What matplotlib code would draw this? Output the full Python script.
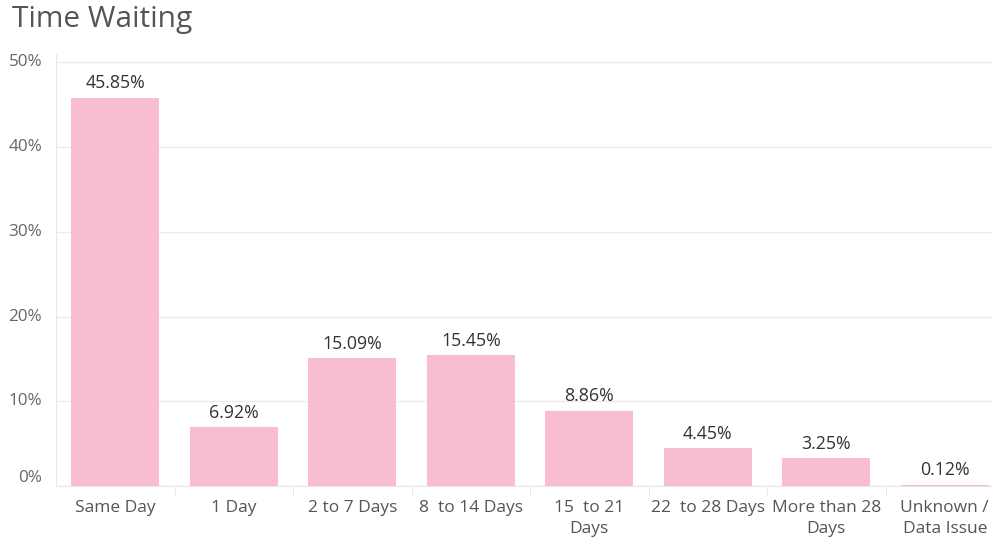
import matplotlib
matplotlib.use("Agg")
import matplotlib.pyplot as plt
import numpy as np

plt.rcParams['font.family'] = ['Open Sans', 'DejaVu Sans']

categories = ["Same Day", "1 Day", "2 to 7 Days", "8  to 14 Days", "15  to 21\nDays",
              "22  to 28 Days", "More than 28\nDays", "Unknown /\nData Issue"]
values = [45.85, 6.92, 15.09, 15.45, 8.86, 4.45, 3.25, 0.12]
yticks = [0, 10, 20, 30, 40, 50]
ytick_labels = ["0%", "10%", "20%", "30%", "40%", "50%"]

W, H = 992, 540
fig = plt.figure(figsize=(W / 100, H / 100), dpi=100)
left_px, right_px, bottom_px, top_px = 56, 1004, 486, 54
ax = fig.add_axes([left_px / W, (H - bottom_px) / H, (right_px - left_px) / W, (bottom_px - top_px) / H])

x = np.arange(len(categories))
ax.bar(x, values, width=0.745, color="#F8BDD2", zorder=3, linewidth=0)
for xi, v in zip(x, values):
    ax.annotate(f"{v:.2f}%", (xi, v), xytext=(0, 4), textcoords="offset points",
                ha="center", va="bottom", fontsize=12.8, color="#333333")

ax.set_xlim(-0.5, len(categories) - 0.5)
ax.set_ylim(0, 51)
ax.set_yticks(yticks)
ax.set_yticklabels(ytick_labels)
ax.grid(axis="y", color="#EBEBEB", linewidth=1, zorder=0)
for s in ["top", "right"]:
    ax.spines[s].set_visible(False)
ax.spines["left"].set_color("#E6E6E6")
ax.spines["bottom"].set_color("#E6E6E6")
ax.spines["bottom"].set_zorder(1)
ax.spines["left"].set_zorder(1)
ax.tick_params(axis="y", length=0, labelsize=12.3, labelcolor="#666666", pad=10)
ylbls = ax.get_yticklabels()
for lbl in ylbls:
    lbl.set_verticalalignment("center")
ylbls[0].set_verticalalignment("bottom")
ax.set_xticks(x)
ax.set_xticklabels(categories, fontsize=12.5, color="#555555", linespacing=1.45, va="top")
ax.tick_params(axis="x", length=0, pad=10)
ax.set_xticks(np.arange(len(categories)) + 0.5, minor=True)
ax.tick_params(axis="x", which="minor", length=7, color="#E6E6E6")

fig.text(12 / W, 1 - 20 / H, "Time Waiting", fontsize=21.5, color="#555555", ha="left", va="center")

fig.savefig("out.png", dpi=100)
